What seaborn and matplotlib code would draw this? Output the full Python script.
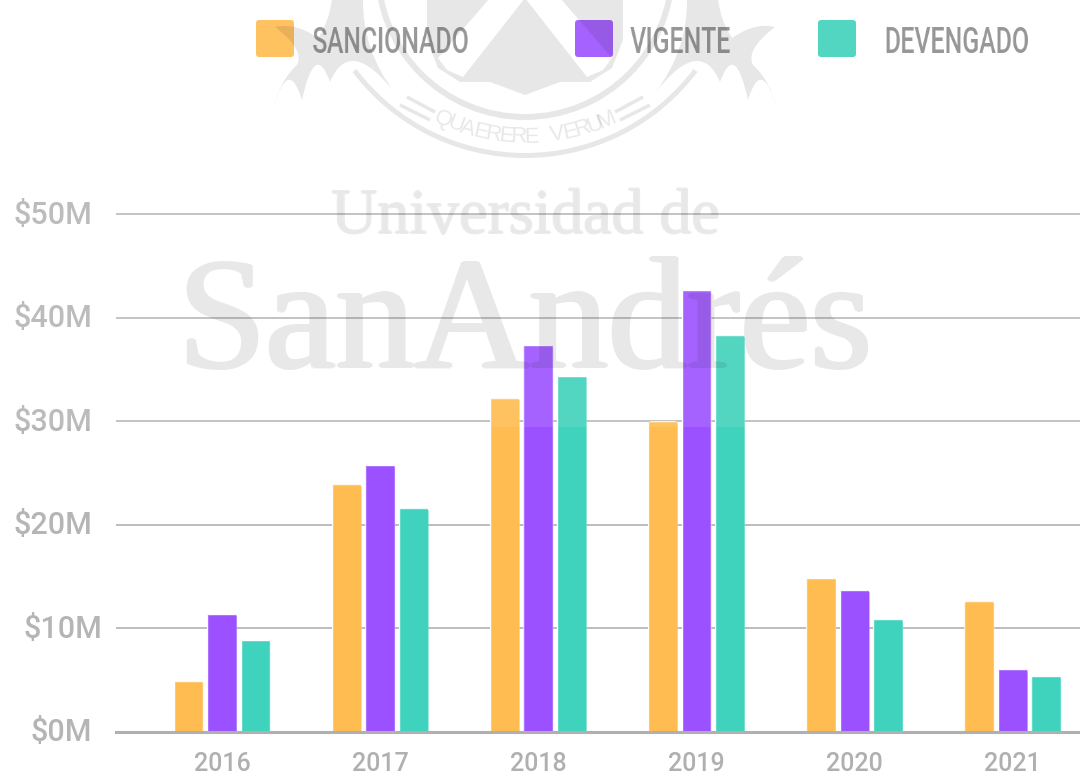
import matplotlib
matplotlib.use("Agg")
import matplotlib.pyplot as plt
import pandas as pd
import seaborn as sns
import numpy as np
from matplotlib.colors import to_rgb
from matplotlib.patches import FancyBboxPatch, PathPatch, Polygon, Wedge, Rectangle
from matplotlib.path import Path
from matplotlib.transforms import Affine2D

years = ["2016", "2017", "2018", "2019", "2020", "2021"]
sancionado = [4.9, 23.9, 32.2, 30.0, 14.9, 12.6]
vigente = [11.4, 25.8, 37.4, 42.7, 13.7, 6.1]
devengado = [8.9, 21.6, 34.4, 38.3, 10.9, 5.4]
series_names = ["SANCIONADO", "VIGENTE", "DEVENGADO"]
colors = ["#FFBC50", "#9B51FF", "#3FD2BC"]
y_ticks = [0, 10, 20, 30, 40, 50]
y_labels = ["$0M", "$10M", "$20M", "$30M", "$40M", "$50M"]


def squeeze(factor, color):
    # the legend font of the original is very condensed, no such font here
    rgb = to_rgb(color)

    def apply(img, dpi):
        h, w = img.shape[:2]
        new_w = max(int(w * factor), 1)
        cols = np.linspace(0, w - 1, new_w)
        alpha = np.array([np.interp(cols, np.arange(w), row) for row in img[..., 3]])
        out = np.zeros((h, new_w, 4))
        out[..., :3] = rgb
        out[..., 3] = alpha
        return out, (w - new_w) // 2, 0
    return apply


def thicken(weight, opacity, wide=False):
    # fatter strokes for the watermark, with one flat opacity
    steps = [(1, 0), (-1, 0), (0, 1), (0, -1)]
    if wide:
        steps += [(2, 0), (-2, 0)]

    def apply(img, dpi):
        a = np.pad(img[..., 3], 3)
        out = a.copy()
        for dx, dy in steps:
            out = np.maximum(out, weight * np.roll(np.roll(a, dy, 0), dx, 1))
        res = np.zeros(a.shape + (4,))
        res[..., 3] = out * opacity
        return res, -3, -3
    return apply


df = pd.DataFrame({"year": years, "SANCIONADO": sancionado, "VIGENTE": vigente, "DEVENGADO": devengado})
df = df.melt(id_vars="year", var_name="serie", value_name="monto")

sns.set_theme(style="white")
plt.rcParams["font.family"] = ["Roboto", "DejaVu Sans"]

fig = plt.figure(figsize=(10.8, 7.74), dpi=100)
W, H = 1080, 774
ax = fig.add_axes([116 / W, (H - 732) / H, (W - 116) / W, (732 - 210.9) / H], zorder=1)

sns.barplot(data=df, x="year", y="monto", hue="serie", order=years, hue_order=series_names,
            palette=dict(zip(series_names, colors)), width=0.635, gap=0.11, saturation=1,
            legend=False, ax=ax)

ax.set_xlim(-0.67, 5.425)
ax.set_ylim(0, 50.3)
ax.set_xlabel("")
ax.set_ylabel("")
ax.set_yticks(y_ticks, y_labels)
ax.grid(axis="y", color="#ababab", linewidth=1.1)
ax.set_axisbelow(True)
for side in ["top", "right", "left"]:
    ax.spines[side].set_visible(False)
ax.spines["bottom"].set_color("#b0b0b0")
ax.spines["bottom"].set_linewidth(2.2)
ax.tick_params(axis="y", length=0, pad=17, labelsize=22, labelcolor="#b5b5b5")
ax.tick_params(axis="x", length=0, pad=14.5, labelsize=18, labelcolor="#b0b0b0")
for lab in ax.get_xticklabels() + ax.get_yticklabels():
    lab.set_fontweight("medium")

# labels sit a little higher, and $10M a bit to the right in the original
for lab, txt in zip(ax.get_yticklabels(), y_labels):
    dx = 10 if txt == "$10M" else 0
    lab.set_transform(lab.get_transform() + Affine2D().translate(dx, 2))

# round the top corners of the bars
for bar in ax.patches:
    x0, w, h = bar.get_x(), bar.get_width(), bar.get_height()
    rounded = FancyBboxPatch((x0, -1), w, h + 1, boxstyle="round,pad=0,rounding_size=0.022",
                             mutation_aspect=15, transform=ax.transData)
    bar.set_clip_path(rounded)

# overlay in pixel coordinates: legend, watermark, washed out top part
over = fig.add_axes([0, 0, 1, 1], zorder=5)
over.set_xlim(0, W)
over.set_ylim(H, 0)
over.axis("off")

legend_x = [256, 575, 818]
legend_text_x = [390.5, 681.5, 956.5]
for name, c, sx, tx in zip(series_names, colors, legend_x, legend_text_x):
    over.add_patch(FancyBboxPatch((sx, 20), 38, 37, boxstyle="round,pad=0,rounding_size=3",
                                  facecolor=c, edgecolor="none", zorder=1))
    t = over.text(tx, 53, name, color="#8c8c8c", fontsize=26, fontweight="medium", va="baseline",
                  ha="center", zorder=1)
    t.set_agg_filter(squeeze(0.69, "#8c8c8c"))

wm = dict(facecolor="black", edgecolor="none", alpha=0.1, zorder=2)

# shield
shield = [(427, -2), (490, -2), (438, 58), (447, 70), (463, 77), (525, -2), (587, 77), (603, 70),
          (612, 58), (560, -2), (623, -2), (623, 40), (612, 68), (590, 82), (560, 82), (525, 95),
          (490, 82), (460, 82), (438, 68), (427, 40)]
over.add_patch(Polygon(shield, closed=True, **wm))

# rings and ribbon
over.add_patch(Wedge((525, -30), 150, 0, 180, width=6, **wm))
over.add_patch(Wedge((525, -58), 216, 37, 143, width=5, **wm))
for x1, y1, x2, y2 in [(407, 97, 435, 112), (400, 105, 430, 120)]:
    over.plot([x1, x2], [y1, y2], color="black", alpha=0.1, lw=2.5, zorder=2, solid_capstyle="butt")
    over.plot([1050 - x1, 1050 - x2], [y1, y2], color="black", alpha=0.1, lw=2.5, zorder=2, solid_capstyle="butt")

# wings, scalloped lower edge
wing_pts = [(273, 110), (288, 55), (302, 100), (315, 40), (330, 82), (350, 35), (395, 93), (362, 50),
            (363, -2), (332, -2), (330, 20), (318, 38), (295, 22), (275, 27), (305, 50), (297, 65),
            (280, 80), (273, 110)]
wing_codes = [Path.MOVETO, Path.CURVE3, Path.CURVE3, Path.CURVE3, Path.CURVE3, Path.CURVE3, Path.CURVE3,
              Path.CURVE3, Path.CURVE3, Path.LINETO, Path.CURVE3, Path.CURVE3, Path.CURVE3, Path.CURVE3,
              Path.CURVE3, Path.CURVE3, Path.CURVE3, Path.CURVE3]
over.add_patch(PathPatch(Path(wing_pts, wing_codes), **wm))
over.add_patch(PathPatch(Path([(1050 - x, y) for x, y in wing_pts], wing_codes), **wm))

# motto on an arc
motto = "QUAERERE VERUM"
angles = np.linspace(-23.5, 23.5, len(motto))
for ch, a in zip(motto, angles):
    t = np.deg2rad(a)
    over.text(525 + 205 * np.sin(t), -68 + 205 * np.cos(t), ch, rotation=a, rotation_mode="anchor",
              ha="center", va="center", fontsize=16, color="black", alpha=0.1, zorder=2,
              family=["Liberation Sans", "DejaVu Sans"])

small = over.text(525, 233, "Universidad de", fontsize=46, ha="center", va="baseline", color="black",
                  zorder=2, family=["Liberation Serif", "DejaVu Serif"])
small.set_agg_filter(thicken(0.9, 0.1))
big = over.text(525, 367, "SanAndrés", fontsize=114, ha="center", va="baseline", color="black",
                zorder=2, family=["Liberation Serif", "DejaVu Serif"])
big.set_agg_filter(thicken(1.0, 0.1, wide=True))

# the watermark image washes out everything above this line
over.add_patch(Rectangle((0, 0), W, 427, facecolor="white", edgecolor="none", alpha=0.1, zorder=3))

fig.savefig("out.png", dpi=100)
